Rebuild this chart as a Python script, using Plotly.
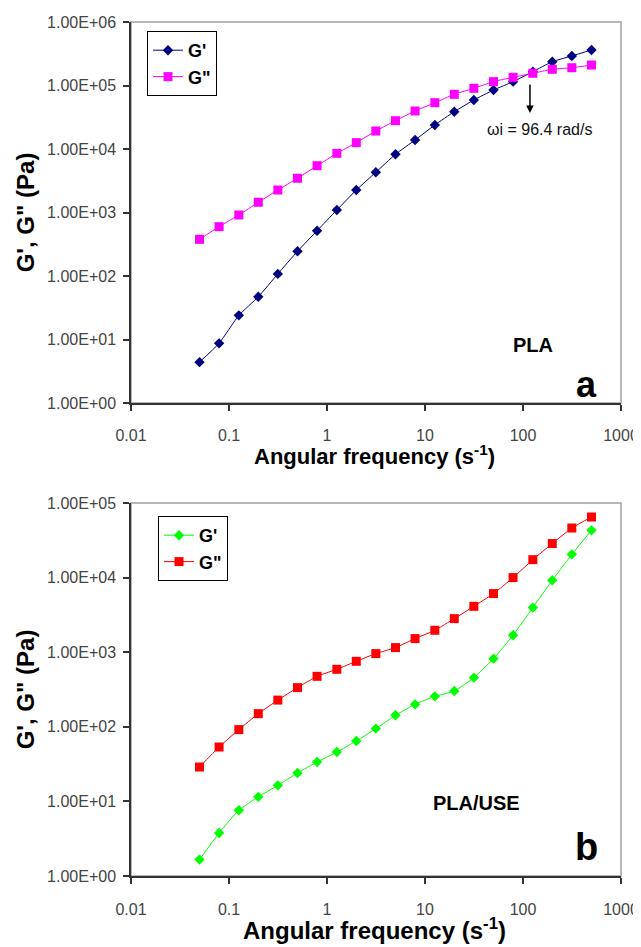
import plotly.graph_objects as go

# ---------------- data ----------------
freq = [0.05, 0.0792, 0.126, 0.199, 0.315, 0.5, 0.792, 1.26, 1.99, 3.15, 5.0,
        7.92, 12.6, 19.9, 31.5, 50.0, 79.2, 126, 199, 315, 500]

pla_g1 = [4.4, 8.7, 24, 47, 108, 245, 517, 1094, 2260, 4300, 8250, 13860,
          23900, 38700, 59100, 84900, 115000, 165000, 237000, 292000, 362000]
pla_g2 = [378, 598, 914, 1448, 2260, 3460, 5460, 8550, 12600, 19200, 27900,
          39700, 53600, 72600, 90300, 115000, 134600, 155700, 180000, 190700, 210000]

use_g1 = [1.66, 3.77, 7.6, 11.5, 16.4, 24, 33.7, 45.9, 64.5, 94.6, 142.6, 200,
          256, 302, 456, 820, 1690, 3960, 9200, 20500, 43000]
use_g2 = [28.9, 53.6, 91.7, 150, 228, 335, 475, 590, 755, 958, 1153, 1522,
          1967, 2820, 4120, 6110, 10000, 17400, 28600, 46200, 64900]

x_tickvals = [0.01, 0.1, 1, 10, 100, 1000]
x_ticktext = ["0.01", "0.1", "1", "10", "100", "1000"]
y_tickvals_a = [1, 10, 100, 1e3, 1e4, 1e5, 1e6]
y_ticktext_a = ["1.00E+00", "1.00E+01", "1.00E+02", "1.00E+03", "1.00E+04", "1.00E+05", "1.00E+06"]
y_tickvals_b = [1, 10, 100, 1e3, 1e4, 1e5]
y_ticktext_b = ["1.00E+00", "1.00E+01", "1.00E+02", "1.00E+03", "1.00E+04", "1.00E+05"]

W, H = 641, 947
OFF = 8  # page body margin offset
FONT = "Liberation Sans, Arial, sans-serif"

def px(x):
    return (x - OFF) / W

def py(y):
    return 1 - (y - OFF) / H

fig = go.Figure()

def add_series(x, y, name, color, symbol, size, xa, ya, legend):
    fig.add_trace(go.Scatter(
        x=x, y=y, name=name, mode="lines+markers",
        line=dict(color=color, width=1, shape="spline", smoothing=0.5),
        marker=dict(color=color, symbol=symbol, size=size, line=dict(width=0)),
        xaxis=xa, yaxis=ya, legend=legend,
    ))

add_series(freq, pla_g1, "G'", "#000080", "diamond", 8, "x", "y", "legend")
add_series(freq, pla_g2, 'G"', "#FF00FF", "square", 9, "x", "y", "legend")
add_series(freq, use_g1, "G'", "#00FF00", "diamond", 8, "x2", "y2", "legend2")
add_series(freq, use_g2, 'G"', "#FF0000", "square", 9, "x2", "y2", "legend2")

xdom = [px(131), px(621)]
ydom_a = [py(403), py(22)]
ydom_b = [py(876), py(503)]

axis_common = dict(
    type="log", showgrid=False, zeroline=False, showline=True, automargin=False,
    linecolor="#333333", linewidth=1.5, ticks="outside", ticklen=6,
    tickcolor="#333333", tickwidth=1.5,
    tickfont=dict(family=FONT, size=16, color="#444444"),
)

ytitle = dict(text="G', G\" (Pa)",
              font=dict(family=FONT, size=24, color="#000000", weight="bold"),
              standoff=6)

fig.update_layout(
    template="none",
    width=W, height=H,
    margin=dict(l=0, r=0, t=0, b=0),
    paper_bgcolor="white", plot_bgcolor="white",
    xaxis=dict(axis_common, domain=xdom, range=[-2, 3], anchor="y",
               tickvals=x_tickvals, ticktext=x_ticktext, ticklabelstandoff=11),
    yaxis=dict(axis_common, domain=ydom_a, range=[0, 6], anchor="x",
               tickvals=y_tickvals_a, ticktext=y_ticktext_a, title=ytitle,
               ticklabelstandoff=4),
    xaxis2=dict(axis_common, domain=xdom, range=[-2, 3], anchor="y2",
                tickvals=x_tickvals, ticktext=x_ticktext, ticklabelstandoff=12),
    yaxis2=dict(axis_common, domain=ydom_b, range=[0, 5], anchor="x2",
                tickvals=y_tickvals_b, ticktext=y_ticktext_b, title=ytitle,
                ticklabelstandoff=4),
    legend=dict(x=px(147), y=py(31), xanchor="left", yanchor="top",
                bordercolor="#000000", borderwidth=1, bgcolor="white",
                font=dict(family=FONT, size=18, color="#000000", weight="bold"),
                tracegroupgap=4),
    legend2=dict(x=px(158), y=py(516), xanchor="left", yanchor="top",
                 bordercolor="#000000", borderwidth=1, bgcolor="white",
                 font=dict(family=FONT, size=18, color="#000000", weight="bold"),
                 tracegroupgap=4),
    showlegend=True,
)

# light gray frame (top/right borders)
for xr, yr in [("x domain", "y domain"), ("x2 domain", "y2 domain")]:
    fig.add_shape(type="rect", xref=xr, yref=yr, x0=0, x1=1, y0=0, y1=1,
                  line=dict(color="#A0A0A0", width=1.5), layer="below")

# annotations
fig.add_annotation(x=2.071, y=4.567, ax=2.071, ay=5.04, xref="x", yref="y",
                   axref="x", ayref="y", text="", showarrow=True,
                   arrowhead=2, arrowsize=1, arrowwidth=1.5, arrowcolor="#000000")
fig.add_annotation(x=2.168, y=4.30, xref="x", yref="y", text="ωi = 96.4 rad/s",
                   showarrow=False, font=dict(family=FONT, size=16, color="#111111"))

texts = [
    ("PLA", 555, 345, 20),
    ("a", 599, 384, 36),
    ("PLA/USE", 522, 803, 20),
    ("b", 600, 847, 38),
    ("Angular frequency (s<sup>-1</sup>)", 374, 455, 22),
    ("Angular frequency (s<sup>-1</sup>)", 374, 929, 24),
]
for t, x, y, s in texts:
    fig.add_annotation(x=px(x), y=py(y), xref="paper", yref="paper", text=t,
                       showarrow=False, yanchor="middle",
                       font=dict(family=FONT, size=s, color="#000000", weight="bold"))

fig.write_html("out.html")
